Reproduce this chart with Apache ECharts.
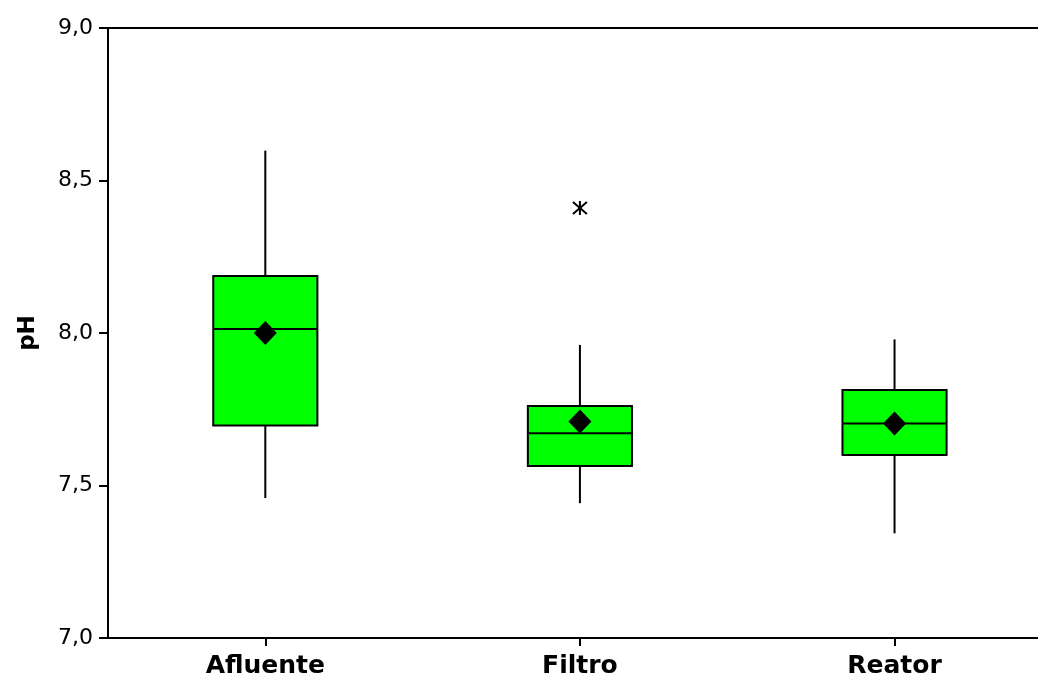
<!DOCTYPE html>
<html>
<head>
<meta charset="utf-8">
<script src="https://cdn.jsdelivr.net/npm/echarts@6/dist/echarts.min.js"></script>
<style>
html,body{margin:0;padding:0;background:#fff;}
#c{width:1038px;height:680px;}
</style>
</head>
<body>
<div id="c"></div>
<script>
var categories = ['Afluente', 'Filtro', 'Reator'];
// [min whisker, Q1, median, Q3, max whisker]
var boxValues = [
  [7.459, 7.697, 8.013, 8.187, 8.598],
  [7.442, 7.564, 7.671, 7.761, 7.961],
  [7.343, 7.600, 7.703, 7.813, 7.979]
];
var meanValues = [8.000, 7.710, 7.703];
var outliers = [[1, 8.410]];
var yTicks = [7.0, 7.5, 8.0, 8.5, 9.0];

var chart = echarts.init(document.getElementById('c'));

var catIdx = categories.map(function (c, i) { return i; });
var boxData = boxValues.map(function (b, i) { return [i].concat(b); });
var meanData = meanValues.map(function (m, i) { return [i, m]; });

function renderBox(params, api) {
  var idx = api.value(0);
  var lo = api.coord([idx, api.value(1)]);
  var q1 = api.coord([idx, api.value(2)]);
  var med = api.coord([idx, api.value(3)]);
  var q3 = api.coord([idx, api.value(4)]);
  var hi = api.coord([idx, api.value(5)]);
  var bw = api.size([1, 0])[0] * 0.331;
  var x = q1[0];
  var ls = { stroke: '#000', lineWidth: 2 };
  return {
    type: 'group',
    children: [
      { type: 'line', shape: { x1: x, y1: hi[1], x2: x, y2: q3[1] }, style: ls },
      { type: 'line', shape: { x1: x, y1: q1[1], x2: x, y2: lo[1] }, style: ls },
      { type: 'rect', shape: { x: x - bw / 2, y: q3[1], width: bw, height: q1[1] - q3[1] },
        style: { fill: '#00ff00', stroke: '#000', lineWidth: 2 } },
      { type: 'line', shape: { x1: x - bw / 2, y1: med[1], x2: x + bw / 2, y2: med[1] }, style: ls }
    ]
  };
}

function renderOutlier(params, api) {
  var p = api.coord([api.value(0), api.value(1)]);
  var r = 7;
  var ls = { stroke: '#000', lineWidth: 2 };
  return {
    type: 'group',
    children: [
      { type: 'line', shape: { x1: p[0] - r, y1: p[1] - r + 1, x2: p[0] + r, y2: p[1] + r - 1 }, style: ls },
      { type: 'line', shape: { x1: p[0] - r, y1: p[1] + r - 1, x2: p[0] + r, y2: p[1] - r + 1 }, style: ls },
      { type: 'line', shape: { x1: p[0], y1: p[1] - r, x2: p[0], y2: p[1] + r }, style: ls }
    ]
  };
}

chart.setOption({
  animation: false,
  backgroundColor: '#fff',
  grid: { left: 108, right: 0, top: 28, bottom: 42, containLabel: false },
  xAxis: [{
    type: 'value',
    min: -0.5,
    max: 2.456,
    position: 'bottom',
    axisLine: { onZero: false, lineStyle: { color: '#000', width: 2 } },
    axisTick: { show: true, customValues: catIdx, length: 8, lineStyle: { color: '#000', width: 2 } },
    axisLabel: {
      customValues: catIdx,
      color: '#000', fontFamily: 'DejaVu Sans', fontWeight: 'bold', fontSize: 25, margin: 16,
      formatter: function (v) { return categories[Math.round(v)] || ''; }
    },
    splitLine: { show: false }
  }, {
    type: 'value',
    min: -0.5,
    max: 2.456,
    position: 'top',
    axisLine: { onZero: false, lineStyle: { color: '#000', width: 2 } },
    axisTick: { show: false },
    axisLabel: { show: false },
    splitLine: { show: false }
  }],
  yAxis: {
    type: 'value',
    min: yTicks[0],
    max: yTicks[yTicks.length - 1],
    interval: 0.5,
    name: 'pH',
    nameLocation: 'middle',
    nameGap: 68,
    nameRotate: 90,
    nameTextStyle: { color: '#000', fontFamily: 'DejaVu Sans', fontWeight: 'bold', fontSize: 23 },
    axisLine: { show: true, onZero: false, lineStyle: { color: '#000', width: 2 } },
    axisTick: { show: true, length: 9, lineStyle: { color: '#000', width: 2 } },
    axisLabel: {
      color: '#000', fontFamily: 'DejaVu Sans', fontSize: 22, margin: 15,
      formatter: function (v) { return v.toFixed(1).replace('.', ','); }
    },
    splitLine: { show: false }
  },
  series: [{
    type: 'custom',
    renderItem: renderBox,
    data: boxData,
    encode: { x: 0, y: [1, 2, 3, 4, 5] },
    z: 2
  }, {
    type: 'scatter',
    data: meanData,
    symbol: 'diamond',
    symbolSize: [23, 24],
    itemStyle: { color: '#000', opacity: 1 },
    z: 3
  }, {
    type: 'custom',
    renderItem: renderOutlier,
    data: outliers,
    encode: { x: 0, y: 1 },
    z: 3
  }]
});
</script>
</body>
</html>
